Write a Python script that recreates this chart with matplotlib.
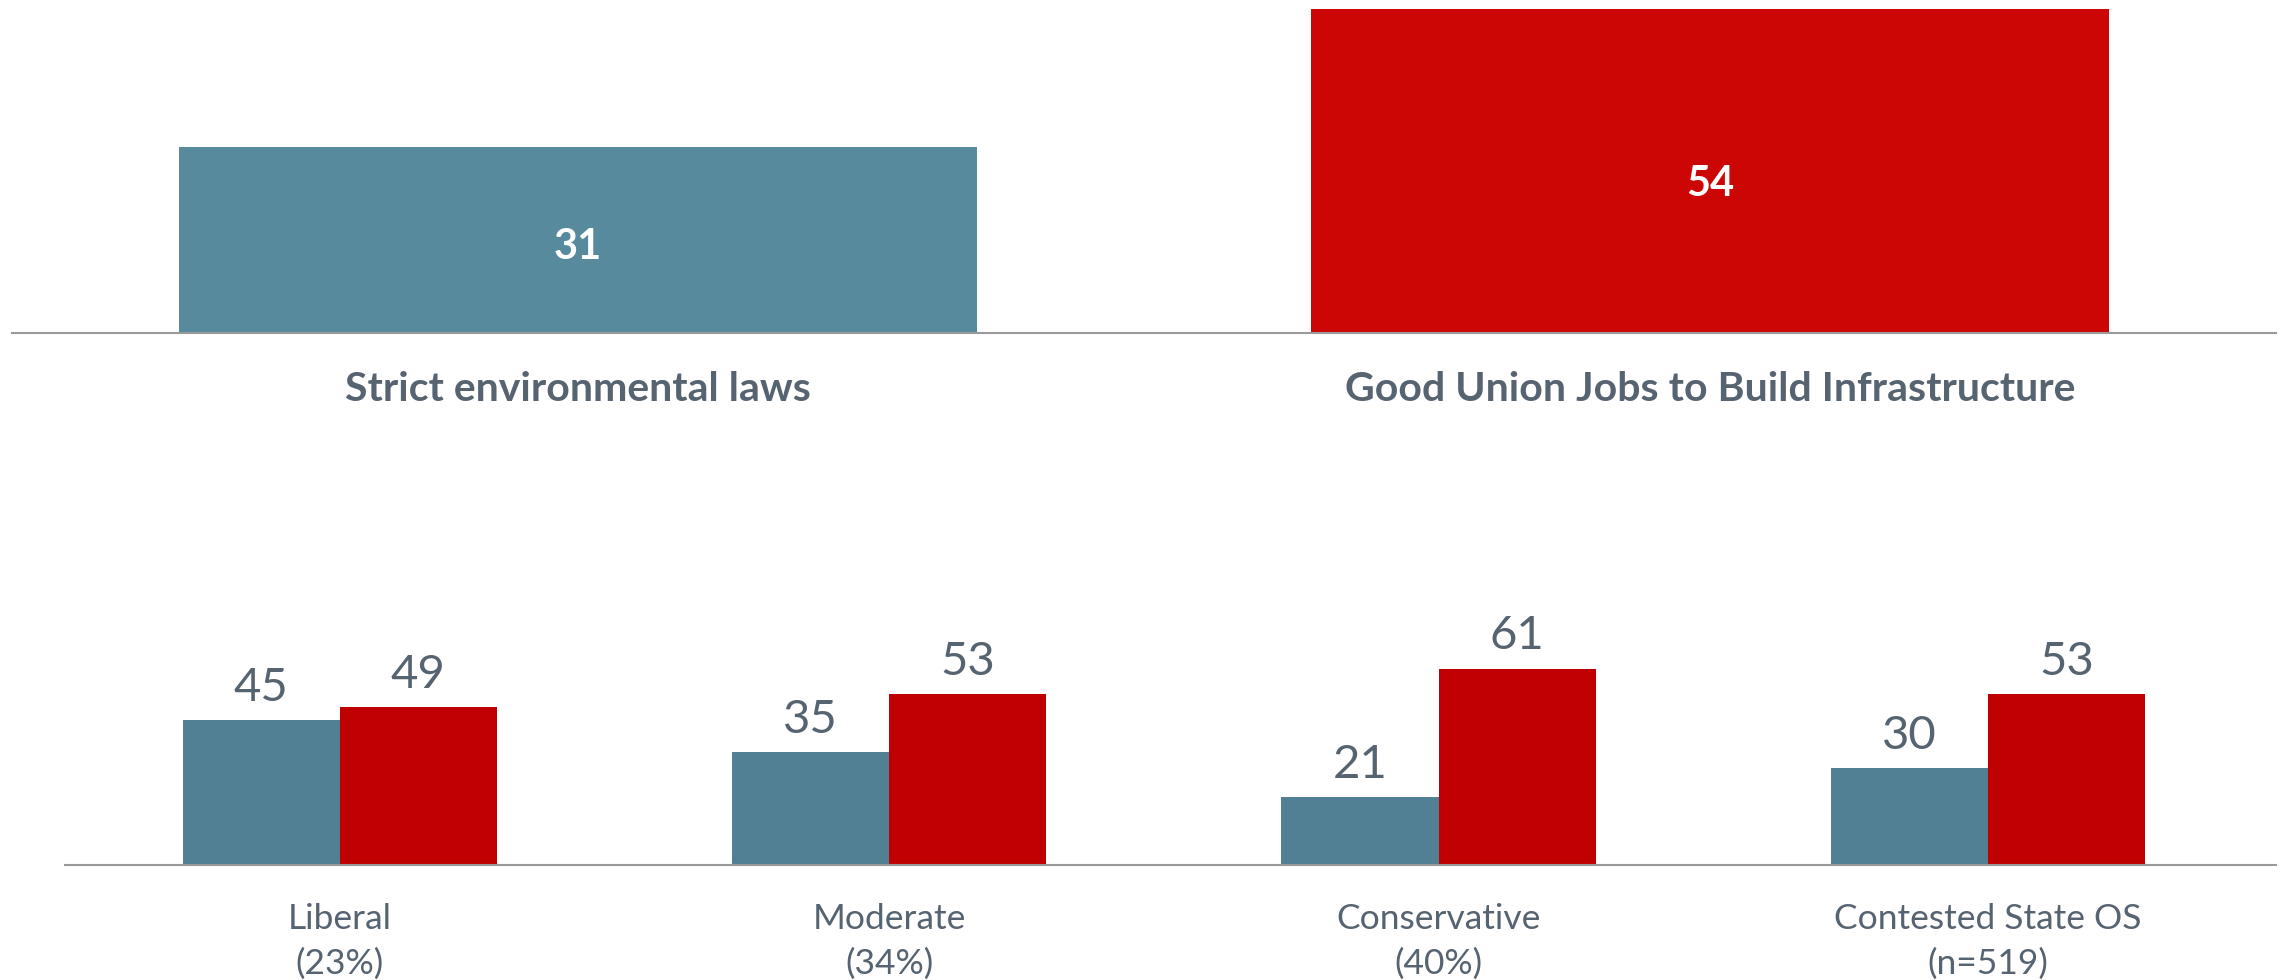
import matplotlib.pyplot as plt
import numpy as np

plt.rcParams['font.family'] = ['Lato', 'DejaVu Sans']

# top panel: overall
top_labels = ['Strict environmental laws', 'Good Union Jobs to Build Infrastructure']
top_values = [31, 54]
top_colors = ['#588A9E', '#CC0605']

# bottom panel: by ideology
groups = ['Liberal', 'Moderate', 'Conservative', 'Contested State OS']
group_sub = ['(23%)', '(34%)', '(40%)', '(n=519)']
env_values = [45, 35, 21, 30]
union_values = [49, 53, 61, 53]
env_color = '#517F93'
union_color = '#C00000'

text_color = '#566371'
axis_color = '#9A9A9A'

W, H = 2280, 980
fig = plt.figure(figsize=(W / 100, H / 100), dpi=100)

def px_axes(left, top, right, bottom):
    return fig.add_axes([left / W, 1 - bottom / H, (right - left) / W, (bottom - top) / H])

def clean(ax):
    for s in ['top', 'right', 'left']:
        ax.spines[s].set_visible(False)
    ax.spines['bottom'].set_color(axis_color)
    ax.spines['bottom'].set_linewidth(1.5)
    ax.set_yticks([])
    ax.set_xticks([])
    ax.patch.set_alpha(0)

# ---- top chart
ax1 = px_axes(12, 0, 2276, 333)
clean(ax1)
x1 = np.arange(len(top_values))
ax1.bar(x1, top_values, width=0.705, color=top_colors)
ax1.set_xlim(-0.5, 1.5)
ax1.set_ylim(0, 55.45)
for xi, v, lab in zip(x1, top_values, top_labels):
    ax1.text(xi, v * 0.46, str(v), ha='center', va='center', color='white',
             fontsize=30, fontweight='bold')
    ax1.annotate(lab, xy=(xi, 0), xycoords=('data', 'axes fraction'),
                 xytext=(0, -41), textcoords='offset points', ha='center', va='center',
                 color=text_color, fontsize=29.5, fontweight='bold')

# ---- bottom chart
ax2 = px_axes(65, 560, 2276, 865)
clean(ax2)
x2 = np.arange(len(groups))
bw = 0.286
ax2.bar(x2 - bw / 2, env_values, width=bw, color=env_color)
ax2.bar(x2 + bw / 2, union_values, width=bw, color=union_color)
ax2.set_xlim(-0.5, 3.524)
ax2.set_ylim(0, 94.7)
for xi, a, b in zip(x2, env_values, union_values):
    ax2.annotate(str(a), xy=(xi - bw / 2, a), xytext=(0, 8), textcoords='offset points',
                 ha='center', va='bottom', color=text_color, fontsize=34)
    ax2.annotate(str(b), xy=(xi + bw / 2, b), xytext=(0, 8), textcoords='offset points',
                 ha='center', va='bottom', color=text_color, fontsize=34)
for xi, g, s in zip(x2, groups, group_sub):
    ax2.annotate(g, xy=(xi, 0), xycoords=('data', 'axes fraction'),
                 xytext=(0, -39), textcoords='offset points', ha='center', va='center',
                 color=text_color, fontsize=25.5)
    ax2.annotate(s, xy=(xi, 0), xycoords=('data', 'axes fraction'),
                 xytext=(0, -71), textcoords='offset points', ha='center', va='center',
                 color=text_color, fontsize=25.5)

fig.savefig('out.png', dpi=100)
